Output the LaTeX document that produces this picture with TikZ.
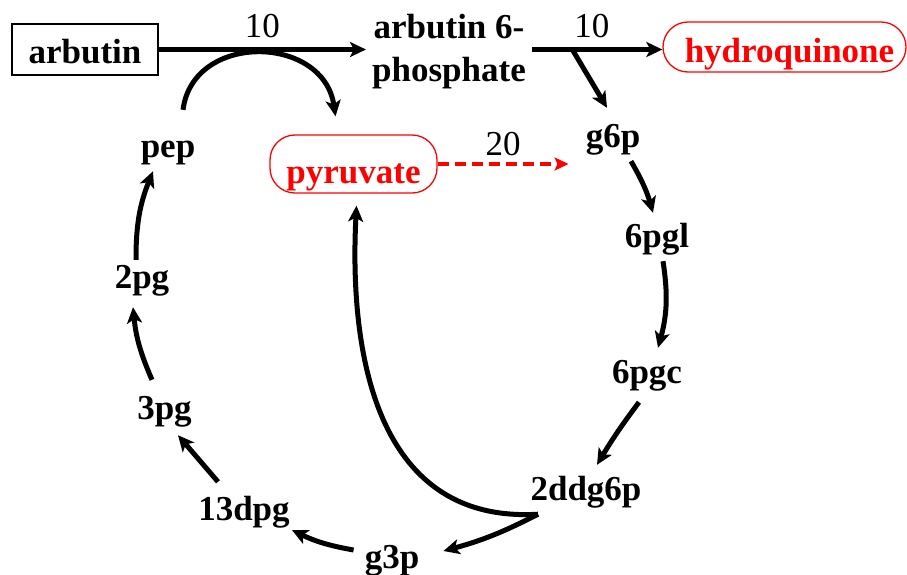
\documentclass[tikz,border=0pt]{standalone}
\usepackage{fontspec}
\setmainfont{Liberation Serif}
\usetikzlibrary{arrows.meta,calc}
\begin{document}
\begin{tikzpicture}[x=1pt,y=-1pt,
  lbl/.style={font=\fontsize{35}{43}\selectfont\bfseries, text height=24pt, text depth=8pt, inner sep=6pt},
  num/.style={font=\fontsize{35}{40}\selectfont, inner sep=0pt, text height=24pt, text depth=0pt},
  arr/.style={line width=5pt, -{Stealth[length=16pt,width=15pt,inset=4pt]}},
  redarr/.style={red, line width=3.8pt, dash pattern=on 11pt off 6pt, -{Stealth[length=14pt,width=13pt,inset=3pt]}},
  redbox/.style={draw=red, line width=1.3pt, rounded corners=25pt, text=red, inner sep=0pt,
    font=\fontsize{35}{43}\selectfont\bfseries},
  blackbox/.style={draw=black, line width=1.3pt, inner sep=0pt, font=\fontsize{35}{43}\selectfont\bfseries},
]
\useasboundingbox (0,0) rectangle (907,574);

% boxed nodes
\node[blackbox, minimum width=146pt, minimum height=51pt, text height=27pt, text depth=0pt] (arb) at (85,49.5) {arbutin};
\node[font=\fontsize{35}{43}\selectfont\bfseries, align=center, inner sep=6pt] (a6p) at (449,51.5) {arbutin 6-\\phosphate};
\node[redbox, minimum width=243pt, minimum height=50pt, text height=30pt, text depth=0pt] (hq) at (784.5,47) {\hspace*{10pt}hydroquinone};
\node[redbox, minimum width=167pt, minimum height=58pt, text height=38pt, text depth=0pt] (pyr) at (353.5,164) {pyruvate};

% plain metabolite nodes
\node[lbl,anchor=base] (pep) at (168,157) {pep};
\node[lbl,anchor=base] (g6p) at (613,147) {g6p};
\node[lbl,anchor=base] (pgl) at (657,247) {6pgl};
\node[lbl,anchor=base] (pgc) at (647,383) {6pgc};
\node[lbl,anchor=base] (ddg) at (586,500) {2ddg6p};
\node[lbl,anchor=base] (g3p) at (392,568) {g3p};
\node[lbl,anchor=base] (dpg) at (244,520) {13dpg};
\node[lbl,anchor=base] (pgthree) at (164.5,419) {3pg};
\node[lbl,anchor=base] (pgtwo) at (142,288) {2pg};

% top row
\draw[arr] (arb.east) -- node[num, above=10pt] (n1) {10} (arb.east -| a6p.west);
\draw[arr] (a6p.east |- arb.east) -- coordinate[pos=0.309] (br) node[num, above=10pt, pos=0.46] (n2) {10} (hq.west |- arb.east);
\draw[arr] (br) -- ([xshift=-6pt,yshift=9pt]g6p.north);

% pep -> pyruvate arc
\draw[arr] ([xshift=15pt,yshift=17pt]pep.north) .. controls +(10,-78) and +(-12,-82) .. ([xshift=-18pt,yshift=18pt]pyr.north);

% dashed red
\draw[redarr] (pyr.east) -- node[num, above=7pt, text=black] (n3) {20} ([xshift=-11pt,yshift=-25pt]g6p.west);

% cycle
\draw[arr] ([xshift=18pt]g6p.south) to[bend left=7] ([xshift=-4pt,yshift=4pt]pgl.north);
\draw[arr] ([xshift=6pt]pgl.south) to[bend left=12] ([xshift=11pt,yshift=5pt]pgc.north);
\draw[arr] ([xshift=-8pt,yshift=-5pt]pgc.south) to[bend right=3] ([xshift=11pt,yshift=5pt]ddg.north);
\draw[arr] ([xshift=-48pt]ddg.south) to[bend left=6] ([xshift=18pt,yshift=9pt]g3p.east);
\draw[arr] ([xshift=-48pt]ddg.south) .. controls +(-168,10) and +(-7,135) .. ([xshift=3pt,yshift=-12pt]pyr.south);
\draw[arr] ([xshift=-5pt,yshift=10pt]g3p.west) to[bend left=8] ([xshift=-4pt,yshift=-18pt]dpg.east);
\draw[arr] ([xshift=-26pt,yshift=8pt]dpg.north) -- ([xshift=13.5pt,yshift=-2pt]pgthree.south);
\draw[arr] ([xshift=-12.5pt,yshift=9pt]pgthree.north) to[bend left=9] ([xshift=-9pt,yshift=-5pt]pgtwo.south);
\draw[arr] ([xshift=-6pt,yshift=-2pt]pgtwo.north) to[bend left=11] ([xshift=-15pt]pep.south);
\end{tikzpicture}
\end{document}
